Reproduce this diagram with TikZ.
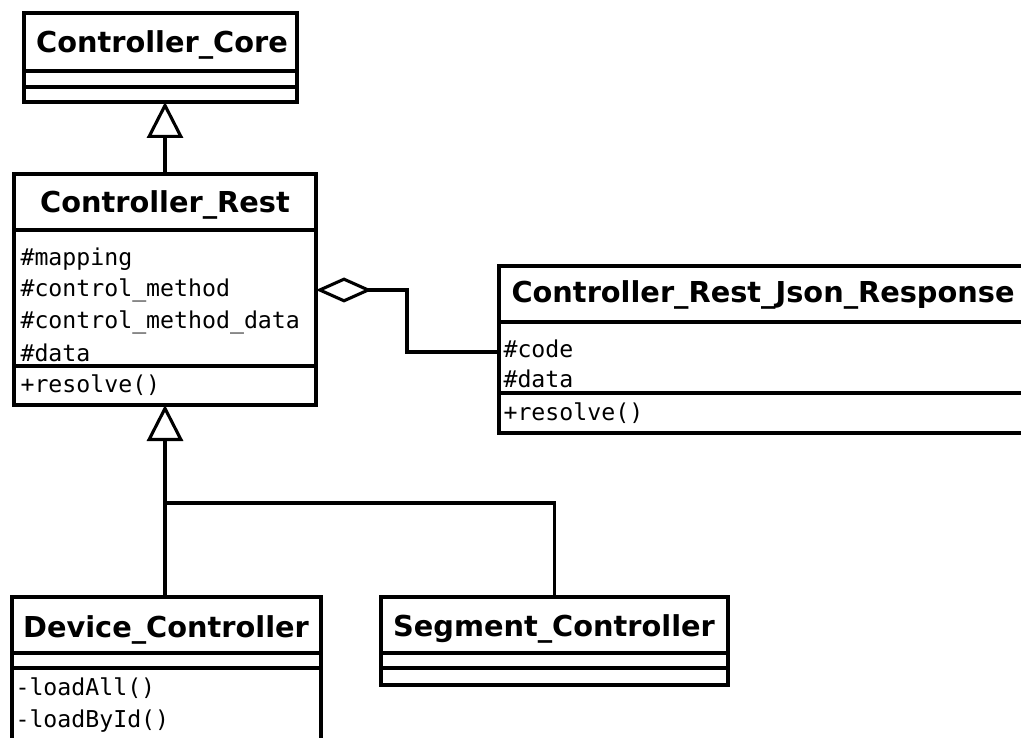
\documentclass[tikz,border=0pt]{standalone}
\usepackage{fontspec}
\setmainfont{DejaVu Sans}
\setmonofont{DejaVu Sans Mono}
\usetikzlibrary{arrows.meta}
\begin{document}
\begin{tikzpicture}[x=1pt,y=-1pt,
  line width=3.1pt,
  classbox/.style={draw, fill=white, rectangle, anchor=north west,
    inner sep=0pt, outer sep=0pt},
  cname/.style={font=\fontsize{28.8}{30}\selectfont\bfseries,
    inner sep=0pt, anchor=base},
  member/.style={font=\fontsize{23.2}{25}\selectfont\ttfamily,
    inner sep=0pt, anchor=base west},
  inherit/.style={-{Triangle[open,length=36pt,width=36pt]}},
  aggr/.style={-{Diamond[open,length=56pt,width=25pt]}},
]
\clip (0,0) rectangle (1021,738);
\fill[white] (0,0) rectangle (1021,738);

% class boxes
\node[classbox, minimum width=273pt, minimum height=89pt]  (core)    at (24,13)  {};
\node[classbox, minimum width=302pt, minimum height=231pt] (rest)    at (14,174) {};
\node[classbox, minimum width=560pt, minimum height=167pt] (json)    at (499,266) {};
\node[classbox, minimum width=309pt, minimum height=200pt] (device)  at (12,597) {};
\node[classbox, minimum width=347pt, minimum height=88pt]  (segment) at (381,597) {};

% compartment separators
\coordinate (s1) at (0,71);  \coordinate (s2) at (0,87);
\draw (core.west |- s1) -- (core.east |- s1);
\draw (core.west |- s2) -- (core.east |- s2);
\coordinate (s3) at (0,230); \coordinate (s4) at (0,366);
\draw (rest.west |- s3) -- (rest.east |- s3);
\draw (rest.west |- s4) -- (rest.east |- s4);
\coordinate (s5) at (0,322); \coordinate (s6) at (0,393);
\draw (json.west |- s5) -- (json.east |- s5);
\draw (json.west |- s6) -- (json.east |- s6);
\coordinate (s7) at (0,653); \coordinate (s8) at (0,668);
\draw (device.west |- s7) -- (device.east |- s7);
\draw (device.west |- s8) -- (device.east |- s8);
\draw (segment.west |- s7) -- (segment.east |- s7);
\draw (segment.west |- s8) -- (segment.east |- s8);

% class names
\node[cname] (coreT) at (162,53) {Controller\_Core};
\node[cname] (restT) at (165,213) {Controller\_Rest};
\node[cname, anchor=base west] (jsonT) at (510,303) {Controller\_Rest\_Json\_Response};
\node[cname] (devT) at (166,637) {Device\_Controller};
\node[cname] (segT) at (554,636) {Segment\_Controller};

% members
\node[member] (r1) at (19,266) {\#mapping};
\node[member] (r2) at (19,297) {\#control\_method};
\node[member] (r3) at (19,329) {\#control\_method\_data};
\node[member] (r4) at (19,361) {\#data};
\node[member] (r5) at (19,392) {+resolve()};
\node[member] (j1) at (502,357) {\#code};
\node[member] (j2) at (502,388) {\#data};
\node[member] (j3) at (502,420) {+resolve()};
\node[member] (d1) at (14,695) {-loadAll()};
\node[member] (d2) at (14,727) {-loadById()};

% generalisations
\draw[inherit] (rest.north) -- (rest.north |- core.south);
\coordinate (junction) at (165,503);
\draw[inherit] (device.north -| rest.south) -- (rest.south);
\draw (segment.north) |- (junction);

% aggregation
\coordinate (bendlow) at (407,352);
\coordinate (bendhigh) at (407,290);
\draw[aggr] (json.west |- bendlow) -- (bendlow) -- (bendhigh) -- (rest.east |- bendhigh);
\end{tikzpicture}
\end{document}
